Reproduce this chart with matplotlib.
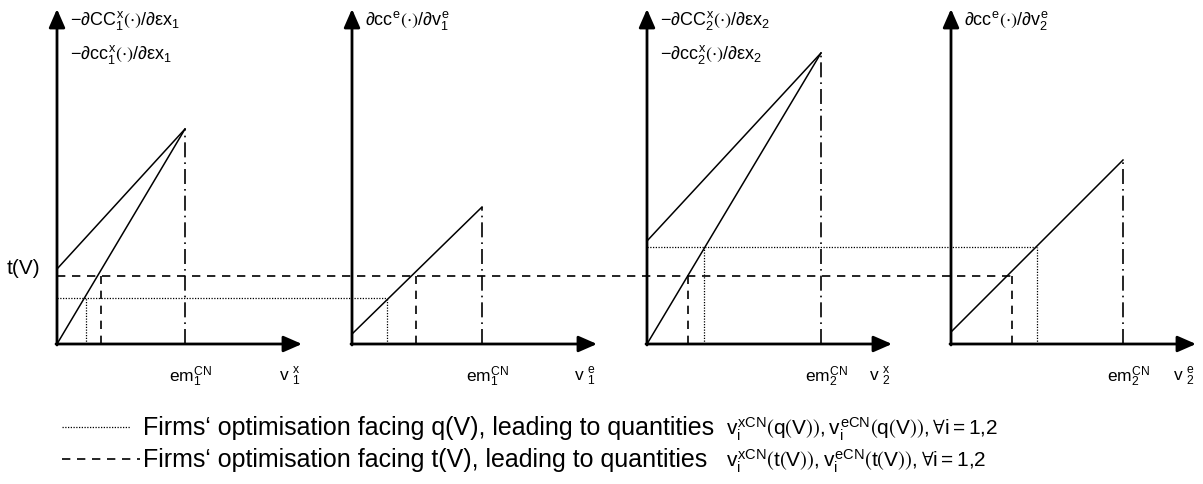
import matplotlib
matplotlib.use('Agg')
from matplotlib import pyplot as plt

plt.rcParams['font.family'] = ['Liberation Sans', 'DejaVu Sans']
plt.rcParams['mathtext.fontset'] = 'custom'
plt.rcParams['mathtext.rm'] = 'Liberation Sans'
plt.rcParams['mathtext.it'] = 'Liberation Sans'
plt.rcParams['mathtext.bf'] = 'Liberation Sans:bold'
plt.rcParams['mathtext.fallback'] = 'stixsans'

# levels of the two price signals
t_level = 68
q_level = [46, 97]          # firm 1, firm 2

# marginal abatement curves per panel
em_cn = [128, 130, 174, 172]          # end of curves (em^CN)
curve_top = [215, 137, 291, 184]      # height at em^CN
curve_start = [[0, 75], [10], [0, 103], [12]]
q_cross = [29, 35, 57, 86]            # quantities facing q(V)
t_cross = [44, 64, 41, 61]            # quantities facing t(V)

y_labels = [
    [r'$-\partial CC_1^x\left(\cdot\right)/\partial \varepsilon x_1$',
     r'$-\partial cc_1^x\left(\cdot\right)/\partial \varepsilon x_1$'],
    [r'$\partial cc^e\left(\cdot\right)/\partial v_1^e$'],
    [r'$-\partial CC_2^x\left(\cdot\right)/\partial \varepsilon x_2$',
     r'$-\partial cc_2^x\left(\cdot\right)/\partial \varepsilon x_2$'],
    [r'$\partial cc^e\left(\cdot\right)/\partial v_2^e$'],
]
em_labels = [r'$em_1^{CN}$', r'$em_1^{CN}$', r'$em_2^{CN}$', r'$em_2^{CN}$']
v_labels = [r'$v\ _1^x$', r'$v\ _1^e$', r'$v\ _2^x$', r'$v\ _2^e$']
legend_words = ['Firms‘ optimisation facing q(V), leading to quantities',
                'Firms‘ optimisation facing t(V), leading to quantities']
legend_math = [
    r'$v_i^{xCN}\left(q\left(V\right)\right), v_i^{eCN}\left(q\left(V\right)\right), \forall i = 1{,}2$',
    r'$v_i^{xCN}\left(t\left(V\right)\right), v_i^{eCN}\left(t\left(V\right)\right), \forall i = 1{,}2$',
]

# layout
panel_x0 = [57, 352, 647, 951]
x_axis_len = 245
y_axis_top = 335

fig = plt.figure(figsize=(12.03, 4.85), dpi=100)
ax = fig.add_axes([0, 0, 1, 1])
ax.set_xlim(0, 1203)
ax.set_ylim(-140, 345)
ax.axis('off')

arrow = dict(arrowstyle='-|>,head_length=0.8,head_width=0.35', lw=2,
             color='k', shrinkA=0, shrinkB=0, mutation_scale=14)
solid = dict(color='k', lw=1.1)
dashed = dict(color='k', lw=1.2, dashes=(5, 4))
dotted = dict(color='k', lw=0.9, dashes=(1, 1.2))
dashdot = dict(color='k', lw=1.2, dashes=(9, 3, 1, 3))

for i, x0 in enumerate(panel_x0):
    ax.annotate('', xy=(x0, y_axis_top), xytext=(x0, -1), arrowprops=arrow)
    ax.annotate('', xy=(x0 + x_axis_len, 0), xytext=(x0 - 1, 0), arrowprops=arrow)
    for y0 in curve_start[i]:
        ax.plot([x0, x0 + em_cn[i]], [y0, curve_top[i]], **solid)
    ax.plot([x0 + em_cn[i]] * 2, [0, curve_top[i]], **dashdot)
    qi = q_level[i // 2]
    ax.plot([x0 + q_cross[i]] * 2, [0, qi], **dotted)
    ax.plot([x0 + t_cross[i]] * 2, [0, t_level], **dashed)
    for k, lab in enumerate(y_labels[i]):
        ax.text(x0 + 13, y_axis_top - 11 - 33 * k, lab, fontsize=13, va='center', ha='left')
    ax.text(x0 + em_cn[i] + 6, -32, em_labels[i], fontsize=12.5, ha='center', va='center')
    ax.text(x0 + x_axis_len - 12, -32, v_labels[i], fontsize=12.5, ha='center', va='center')

# horizontal price lines across panels
ax.plot([panel_x0[0], panel_x0[3] + t_cross[3]], [t_level] * 2, **dashed)
ax.plot([panel_x0[0], panel_x0[1] + q_cross[1]], [q_level[0]] * 2, **dotted)
ax.plot([panel_x0[2], panel_x0[3] + q_cross[3]], [q_level[1]] * 2, **dotted)
ax.text(7, t_level + 8, 't(V)', fontsize=15, ha='left', va='center')

# legend
legend_y = [-83, -115]
ax.plot([62, 130], [legend_y[0]] * 2, **dotted)
ax.plot([62, 140], [legend_y[1]] * 2, **dashed)
for y, words, math in zip(legend_y, legend_words, legend_math):
    ax.text(143, y, words, fontsize=18, ha='left', va='center')
    ax.text(726, y - 1, math, fontsize=15, ha='left', va='center')

fig.savefig('out.png', dpi=100)
